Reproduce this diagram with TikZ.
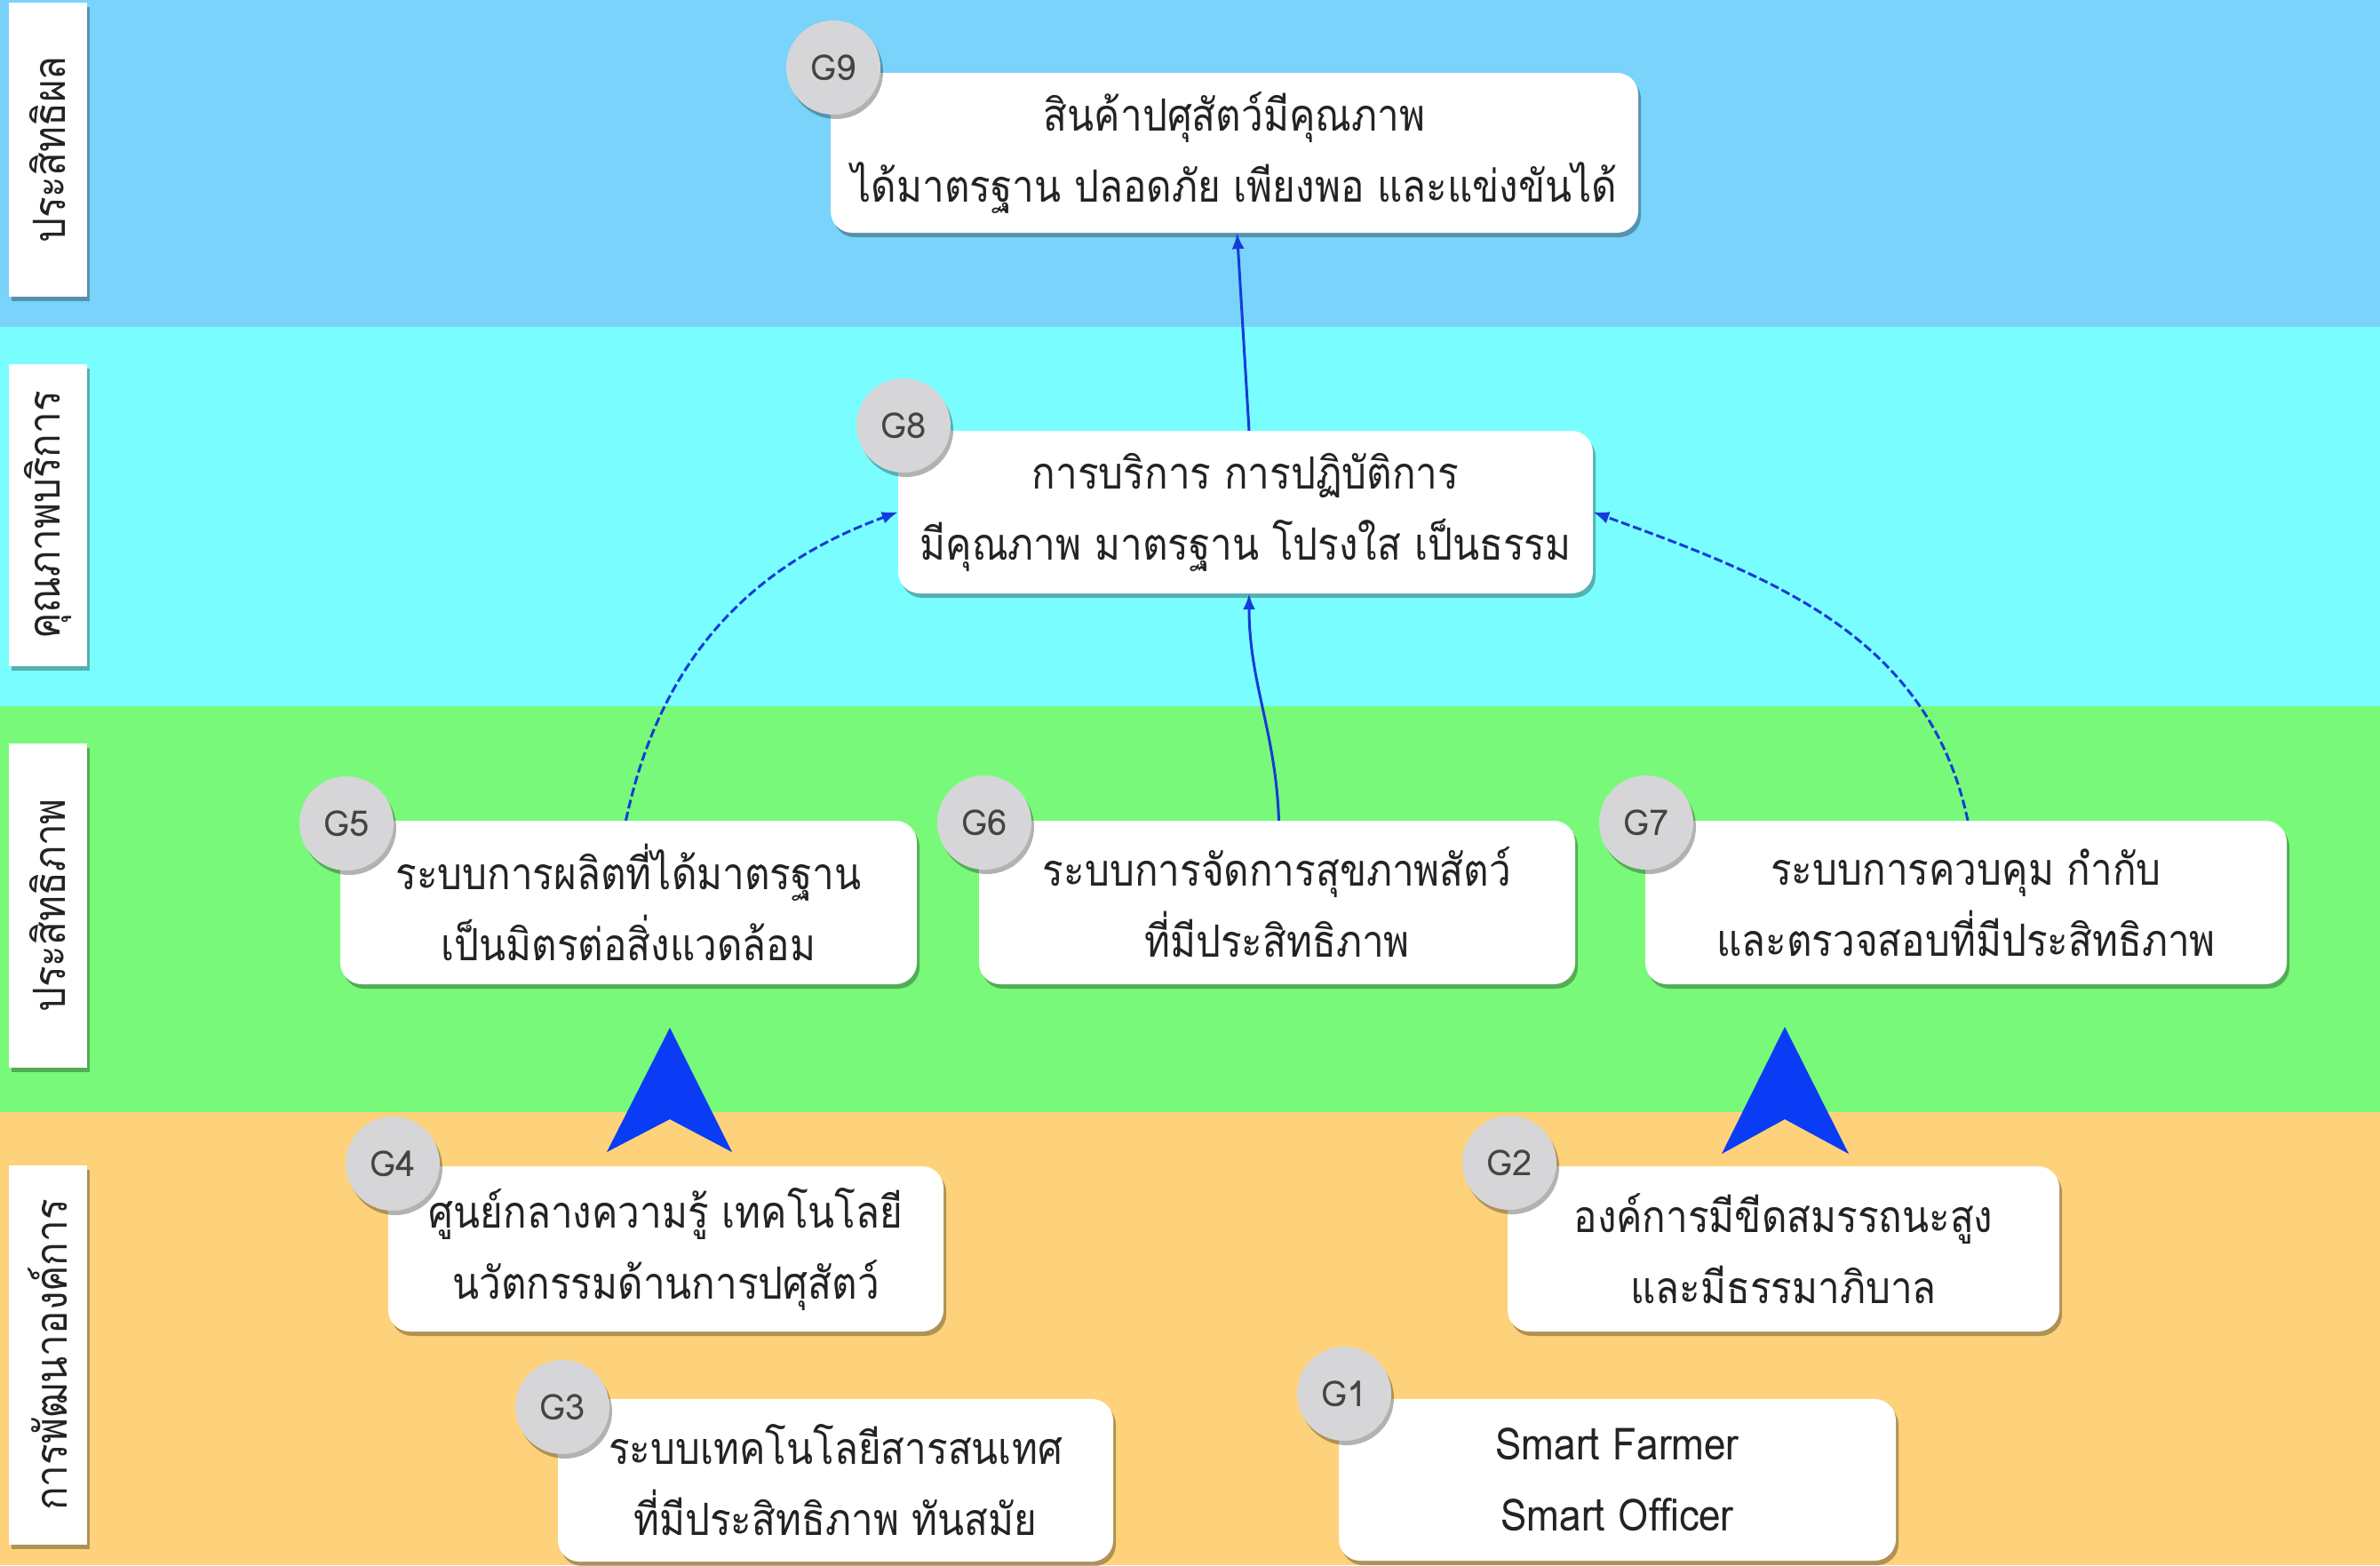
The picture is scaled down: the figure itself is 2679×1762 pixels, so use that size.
\documentclass[tikz,border=0pt]{standalone}
\usepackage{fontspec}
\newfontfamily\thai[Script=Thai,FakeStretch=0.88]{Loma}
\newfontfamily\badgefont{Loma}
\usetikzlibrary{shadows,arrows.meta}
\definecolor{bandA}{RGB}{121,211,250}
\definecolor{bandB}{RGB}{122,253,255}
\definecolor{bandC}{RGB}{120,249,122}
\definecolor{bandD}{RGB}{253,210,123}
\definecolor{linkblue}{RGB}{20,60,215}
\definecolor{bigblue}{RGB}{10,60,245}
\definecolor{badgegray}{RGB}{214,214,216}
\definecolor{ink}{RGB}{35,35,35}
\begin{document}
\begin{tikzpicture}[x=1pt,y=1pt,
  softshadow/.style={drop shadow={shadow xshift=3pt,shadow yshift=-5pt,opacity=0.3,fill=black}},
  goal/.style={fill=white, rounded corners=24pt, softshadow, align=center, text=ink,
    font=\thai\fontsize{50}{80}\selectfont, inner sep=0pt},
  badge/.style={circle, fill=badgegray, minimum size=106pt, inner sep=0pt, softshadow,
    text=ink!85, font=\badgefont\fontsize{40}{40}\selectfont},
  lane/.style={fill=white, minimum height=88pt, inner sep=0pt, softshadow, rotate=90,
    text=ink, font=\thai\fontsize{50}{50}\selectfont},
  conn/.style={draw=linkblue, line width=3pt, -{Latex[length=18pt,width=14pt]}},
  dashedconn/.style={conn, dash pattern=on 10pt off 4pt},
  bighead/.style={fill=bigblue}
]
\useasboundingbox (0,0) rectangle (2679,-1762);
% bands
\fill[bandA] (0,0) rectangle (2679,-368);
\fill[bandB] (0,-368) rectangle (2679,-795);
\fill[bandC] (0,-795) rectangle (2679,-1252);
\fill[bandD] (0,-1252) rectangle (2679,-1762);

% lane labels
\node[lane, minimum width=331pt] (l1) at (54,-168.5) {ประสิทธิผล};
\node[lane, minimum width=340pt] (l2) at (54,-580) {คุณภาพบริการ};
\node[lane, minimum width=365pt] (l3) at (54,-1019.5) {ประสิทธิภาพ};
\node[lane, minimum width=427pt] (l4) at (54,-1525.5) {การพัฒนาองค์การ};

% goal boxes
\node[goal, minimum width=909pt, minimum height=180pt] (g9) at (1389.5,-172)
  {สินค้าปศุสัตว์มีคุณภาพ\\ได้มาตรฐาน ปลอดภัย เพียงพอ และแข่งขันได้};
\node[goal, minimum width=782pt, minimum height=183pt] (g8) at (1402,-576.5)
  {การบริการ การปฏิบัติการ\\มีคุณภาพ มาตรฐาน โปรงใส เป็นธรรม};
\node[goal, minimum width=649pt, minimum height=184pt] (g5) at (707.5,-1016)
  {ระบบการผลิตที่ได้มาตรฐาน\\เป็นมิตรต่อสิ่งแวดล้อม};
\node[goal, minimum width=671pt, minimum height=184pt] (g6) at (1437.5,-1016)
  {ระบบการจัดการสุขภาพสัตว์\\ที่มีประสิทธิภาพ};
\node[goal, minimum width=722pt, minimum height=184pt] (g7) at (2213,-1016)
  {ระบบการควบคุม กำกับ\\และตรวจสอบที่มีประสิทธิภาพ};
\node[goal, minimum width=625pt, minimum height=186pt] (g4) at (749.5,-1406)
  {ศูนย์กลางความรู้ เทคโนโลยี\\นวัตกรรมด้านการปศุสัตว์};
\node[goal, minimum width=621pt, minimum height=186pt] (g2) at (2007.5,-1406)
  {องค์การมีขีดสมรรถนะสูง\\และมีธรรมาภิบาล};
\node[goal, minimum width=625pt, minimum height=183pt] (g3) at (940.5,-1666.5)
  {ระบบเทคโนโลยีสารสนเทศ\\ที่มีประสิทธิภาพ ทันสมัย};
\node[goal, minimum width=627pt, minimum height=182pt] (g1) at (1820.5,-1666)
  {Smart Farmer\\Smart Officer};

% badges
\node[badge] (b9) at (938,-76) {G9};
\node[badge] (b8) at (1017,-479) {G8};
\node[badge] (b5) at (390,-927) {G5};
\node[badge] (b6) at (1108,-926) {G6};
\node[badge] (b7) at (1853,-926) {G7};
\node[badge] (b4) at (442,-1310) {G4};
\node[badge] (b2) at (1699,-1309) {G2};
\node[badge] (b3) at (633,-1584) {G3};
\node[badge] (b1) at (1513,-1569) {G1};

% connectors
\draw[conn] ([xshift=4pt]g8.north) -- ([xshift=3pt]g9.south);
\draw[dashedconn] ([xshift=-3pt]g5.north) to[out=78,in=200] (g8.west);
\draw[conn] ([xshift=2pt]g6.north) to[out=92,in=-90] ([xshift=4pt]g8.south);
\draw[dashedconn] ([xshift=2pt]g7.north) to[out=102,in=-20] (g8.east);

% big arrow heads
\fill[bighead] (754,-1157) -- (683,-1297) -- (754,-1260) -- (824,-1297) -- cycle;
\fill[bighead] (2009,-1156) -- (1938,-1299) -- (2009,-1260) -- (2081,-1299) -- cycle;
\end{tikzpicture}
\end{document}
